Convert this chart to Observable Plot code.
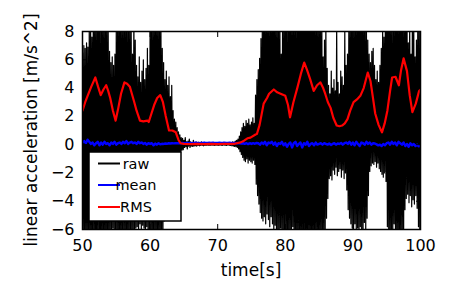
<!DOCTYPE html>
<html><head><meta charset="utf-8">
<script src="https://cdn.jsdelivr.net/npm/d3@7"></script>
<script src="https://cdn.jsdelivr.net/npm/@observablehq/plot@0.6"></script>
<style>html,body{margin:0;padding:0;background:#fff;} svg{display:block}</style>
</head><body><div id="chart"></div>
<script>
// raw samples, every 0.1 s from 50 s (one row = 1 s)
const rawStart = 50, rawStep = 0.1;
const rawValues = [
  6.5,-6.2,7.0,-6.8,6.8,-7,7.2,-6.5,6.9,-7.2,
  8.5,-6.8,9.2,-7.5,7.6,-6.6,10,-7.2,8.8,-6.9,
  9.5,-7.8,8.6,-6.4,10.5,-7.1,9.1,-8,8.7,-6.6,
  10,-7.4,8.4,-6.8,9.6,-7.7,9.2,-6.5,8.3,-7.3,
  6.6,-6,5.8,-6.4,6.2,-5.9,5.6,-6.6,6.4,-6.2,
  9,-7,8.5,-6.6,10,-7.5,9.4,-6.9,8.8,-7.2,
  9.8,-6.6,8.4,-7.4,10.2,-6.9,9,-7.1,8.6,-6.7,
  9.3,-6.4,8.2,-6.8,6.4,-6.1,9.4,-6.3,7.4,-5.9,
  5.6,-5.8,4.8,-6.2,6.2,-5.6,4.4,-6,5.2,-5.7,
  6,-5.9,4.6,-6.3,5.4,-5.8,6.8,-6.1,5.6,-6.4,
  8.6,-6.5,9.4,-6.9,8.5,-7.2,9.8,-6.6,8.7,-7,
  10,-7.3,8.6,-6.7,9.5,-7.1,8.9,-6.5,6.8,-6.2,
  5.8,-5.4,4.6,-5,5.2,-4.6,4.2,-4.2,4.8,-3.6,
  3.4,-3.2,4.2,-2.6,2.4,-2.2,1.8,-1.8,1.6,-1.4,
  1.2,-1.0,0.9,-0.8,0.7,-0.6,0.5,-0.4,0.45,-0.35,
  0.3,-0.2,0.5,-0.15,0.2,-0.3,0.25,-0.1,0.4,-0.2,
  0.2,-0.1,0.15,-0.12,0.3,-0.1,0.15,-0.08,0.2,-0.1,
  0.15,-0.05,0.18,-0.08,0.12,-0.06,0.2,-0.05,0.14,-0.08,
  0.16,-0.05,0.12,-0.06,0.15,-0.04,0.14,-0.06,0.12,-0.05,
  0.15,-0.04,0.13,-0.05,0.16,-0.06,0.12,-0.04,0.15,-0.05,
  0.14,-0.05,0.12,-0.04,0.15,-0.06,0.13,-0.05,0.16,-0.04,
  0.12,-0.05,0.15,-0.06,0.13,-0.04,0.14,-0.05,0.12,-0.06,
  0.15,-0.08,0.2,-0.1,0.18,-0.12,0.25,-0.15,0.3,-0.2,
  0.4,-0.3,0.6,-0.5,0.9,-0.7,1.2,-0.9,1.5,-1.1,
  1.3,-1.2,1.7,-1.0,1.5,-1.3,1.8,-1.1,1.4,-1.2,
  1.6,-1.3,1.9,-1.1,1.5,-1.4,3.5,-2.8,4.6,-3.6,
  5.3,-4.2,6.1,-4.8,7.5,-5.2,8.8,-5.4,9.2,-5.1,
  10,-5.6,8.6,-4.9,9.8,-5.3,8.7,-5.8,9.5,-5.1,
  9.1,-5.6,10.2,-6.4,8.8,-5.7,9.6,-6.6,8.5,-6.2,
  9.4,-6.8,8.6,-5.9,6.4,-6.5,9.3,-7,8.7,-6.1,
  9.6,-6.6,8.5,-7.3,9.2,-6.2,10.4,-7,8.8,-6.7,
  9.9,-5.8,8.6,-7.2,10.1,-6.9,9.3,-7.5,8.9,-6.6,
  10.5,-7.8,11,-7.1,9.6,-8,10.8,-6.9,11.5,-7.6,
  10.2,-8.1,9.7,-7.2,10.6,-6.8,9.4,-7.7,10,-6.6,
  9.5,-7.9,10.3,-6.8,8.9,-7.4,9.8,-6.9,8.6,-7.6,
  10,-7.1,8.8,-6.5,9.6,-7,6.2,-6.4,7.4,-6.1,
  8.8,-5.2,5.4,-3.8,4.2,-2.4,3.6,-2.2,5.2,-2.5,
  4,-1.8,4.6,-2.1,3.8,-1.6,8.4,-2.2,4.4,-1.9,
  3.6,-1.7,5.2,-2.3,4.8,-1.8,4.2,-2.4,8.2,-2,
  5.6,-3.2,6.4,-4.6,8.6,-5.2,9.2,-5.6,8.8,-5.9,
  9.4,-6.2,8.5,-5.6,9.7,-6.4,8.9,-5.9,10.1,-6.6,
  9.2,-5.8,10.4,-6.5,8.7,-6.1,9.8,-5.5,9,-6.3,
  8.6,-5.2,7.4,-3.6,6.4,-1.9,5.8,-1.5,6.6,-1.3,
  6.8,-1.4,5.6,-1.2,4.6,-1.6,5.2,-1.3,4.4,-1.7,
  5.6,-1.9,6.8,-2.1,8.4,-2.3,7.6,-2,8.8,-2.6,
  9.4,-5.8,10.2,-6.6,9.1,-7,9.8,-6.2,8.8,-6.8,
  8.6,-5.6,9.6,-6.4,10.4,-7.1,9,-6.6,9.8,-7.3,
  10.6,-6.9,11,-6.2,9.4,-7,8.9,-4.6,9.6,-3.8,
  10.2,-3.5,7.2,-4.1,8.6,-3.6,6.4,-4.4,9.2,-3.9,
  8.8,-4.2,6.2,-3.6,7.4,-4.5,9.1,-5.8,8.6,-6.2,
  8
];
// mean, every 0.25 s from 50 s
const meanStart = 50, meanStep = 0.25;
const meanValues = [
  0.15,0.25,0.1,0.35,0.2,0.05,0.15,-0.05,
  0.1,0.2,-0.05,0.15,0.0,0.2,0.05,0.1,
  -0.05,0.15,0.05,0.2,0.0,0.1,0.15,0.05,
  0.2,0.1,0.25,0.05,0.15,0.2,0.1,0.15,
  0.05,0.2,0.1,0.15,0.05,0.12,0.0,0.1,
  0.05,0.1,-0.05,0.08,0.0,0.1,0.02,0.06,
  0.05,0.08,0.06,0.1,0.08,0.1,0.09,0.11,
  0.1,0.11,0.1,0.12,0.11,0.1,0.12,0.11,
  0.12,0.11,0.12,0.13,0.12,0.11,0.12,0.12,
  0.13,0.12,0.12,0.13,0.12,0.13,0.12,0.12,
  0.12,0.13,0.12,0.12,0.13,0.12,0.12,0.13,
  0.12,0.11,0.12,0.1,0.12,0.1,0.08,0.1,
  0.06,0.1,0.04,0.1,0.05,0.1,0.06,0.12,
  0.1,0.0,0.15,0.05,0.2,-0.05,0.15,0.1,
  0.2,0.0,0.15,-0.1,0.1,0.05,0.2,-0.05,
  0.1,-0.15,0.05,0.15,-0.2,0.1,0.2,-0.1,
  0.05,0.15,-0.2,0.1,0.0,0.2,-0.1,0.05,
  0.1,-0.05,0.15,0.0,0.05,0.1,0.0,0.1,
  0.05,0.0,0.08,-0.02,0.05,0.1,0.0,0.08,
  0.05,0.12,0.0,0.1,0.15,0.05,0.2,0.0,
  0.15,-0.05,0.2,0.05,-0.1,0.15,0.1,0.0,
  0.2,0.05,0.15,0.0,0.1,0.08,0.02,-0.05,
  0.0,-0.1,0.05,-0.05,0.1,0.15,0.0,0.2,
  0.05,0.15,-0.05,0.2,0.1,0.0,0.15,-0.1,
  0.05,-0.15,0.1,-0.05,0.05,-0.1,0.0,-0.12,
  -0.05
];
// RMS
const rmsTime = [50.0,50.4,50.8,51.3,51.9,52.3,52.7,53.1,53.5,53.8,54.1,54.5,54.9,55.3,55.7,56.2,56.6,57.0,57.3,57.6,
  58.0,58.5,59.0,59.6,59.8,60.2,60.6,61.05,61.5,61.9,62.3,62.8,63.3,63.8,64.2,64.5,65,66,67,68,
  69,70,71,72,72.5,73.4,73.9,74.4,74.85,75.6,75.8,76.2,76.8,77.3,77.6,78.3,78.8,79.3,80.0,80.4,
  80.7,81.2,81.8,82.3,82.8,83.2,83.7,84.2,84.7,85.2,85.6,85.9,86.3,86.7,87.1,87.6,88.0,88.4,88.8,89.2,
  89.6,90.1,90.6,91.1,91.6,92.2,92.6,93.0,93.3,93.8,94.3,94.7,95.1,95.5,95.8,96.3,96.8,97.1,97.5,98.0,
  98.4,98.8,99.3,99.8,100];
const rmsValue = [2.4,3.0,3.5,4.1,4.75,4.1,3.5,3.9,4.2,3.8,3.3,2.4,1.7,2.6,3.6,4.4,4.3,4.1,3.6,3.1,
  2.4,1.7,1.65,1.7,1.6,2.2,2.8,3.3,3.5,3.0,2.05,1.0,1.0,0.87,0.33,0.1,0.05,0.04,0.05,0.04,
  0.05,0.04,0.05,0.05,0.06,0.16,0.28,0.45,0.5,0.72,0.75,1.4,2.9,3.3,3.6,3.9,3.7,3.6,3.45,2.8,
  1.93,3.0,4.05,5.0,5.8,5.3,4.6,3.8,4.2,4.4,4.0,3.6,3.0,2.6,1.9,1.35,1.3,1.35,1.5,1.8,
  2.4,3.0,3.2,3.45,4.0,5.1,4.5,3.2,2.2,1.4,0.87,1.5,2.4,3.8,4.75,4.8,4.2,5.2,6.1,5.2,
  3.5,2.3,2.9,3.8,3.9];

const xTicks = [50,60,70,80,90,100];
const yTicks = [-6,-4,-2,0,2,4,6,8];
const legendLabels = ["raw","mean","RMS"];
const seriesColors = ["#000000","#0000ff","#ff0000"];
const xLabel = "time[s]";
const yLabel = "linear acceleration [m/s^2]";

const raw = rawValues.map((v,i)=>({t: rawStart + i*rawStep, v}));
const mean = meanValues.map((v,i)=>({t: meanStart + i*meanStep, v}));
const rms = rmsTime.map((t,i)=>({t, v: rmsValue[i]}));

const fmt = d => d < 0 ? "\u2212" + Math.abs(d) : String(d);
const FONT = "DejaVu Sans";

const plot = Plot.plot({
  width: 457, height: 305,
  marginLeft: 82, marginRight: 37, marginTop: 31, marginBottom: 76,
  style: {fontFamily: FONT, fontSize: "16px", color: "#000", background: "#fff", overflow: "visible"},
  x: {domain: [50,100]},
  y: {domain: [-6,8]},
  marks: [
    Plot.line(raw, {x:"t", y:"v", stroke: seriesColors[0], strokeWidth: 1.2, clip: true}),
    Plot.line(mean, {x:"t", y:"v", stroke: seriesColors[1], strokeWidth: 2.4, clip: true}),
    Plot.line(rms, {x:"t", y:"v", stroke: seriesColors[2], strokeWidth: 2.2, clip: true}),
    Plot.frame({stroke:"#000", strokeWidth:1.5}),
    Plot.axisX({anchor:"bottom", ticks: xTicks, tickSize: 0, tickPadding: 10, tickFormat: fmt, label: null, fontSize: 16, fill: "#000"}),
    Plot.axisX({anchor:"bottom", ticks: xTicks, tickSize: -5, text: null, label: null, stroke: "#000"}),
    Plot.axisX({anchor:"top", ticks: xTicks, tickSize: -5, text: null, label: null, stroke: "#000"}),
    Plot.axisY({anchor:"left", ticks: yTicks, tickSize: 0, tickPadding: 8, tickFormat: fmt, label: null, fontSize: 16, fill: "#000"}),
    Plot.axisY({anchor:"left", ticks: yTicks, tickSize: -5, text: null, label: null, stroke: "#000"}),
    Plot.axisY({anchor:"right", ticks: yTicks, tickSize: -5, text: null, label: null, stroke: "#000"})
  ]
});

const svg = d3.select(plot);
svg.append("text")
  .attr("x", 251).attr("y", 276)
  .attr("text-anchor", "middle")
  .attr("font-family", FONT).attr("font-size", 17).attr("fill", "#000")
  .text(xLabel);
svg.append("text")
  .attr("transform", "translate(37,130) rotate(-90)")
  .attr("text-anchor", "middle")
  .attr("font-family", FONT).attr("font-size", 17).attr("fill", "#000")
  .text(yLabel);

const lg = svg.append("g");
lg.append("rect").attr("x", 89).attr("y", 152).attr("width", 92).attr("height", 69)
  .attr("fill", "#fff").attr("stroke", "#000").attr("stroke-width", 1.5);
const rowY = [163.5, 185, 207];
legendLabels.forEach((name, i) => {
  lg.append("line").attr("x1", 98).attr("x2", 120).attr("y1", rowY[i]).attr("y2", rowY[i])
    .attr("stroke", seriesColors[i]).attr("stroke-width", 2);
  lg.append("text").attr("x", 136).attr("y", rowY[i]).attr("dy", "0.35em")
    .attr("font-family", FONT).attr("font-size", 14.5).attr("fill", "#000")
    .text(name);
});

document.getElementById("chart").appendChild(plot);
</script>
</body></html>
